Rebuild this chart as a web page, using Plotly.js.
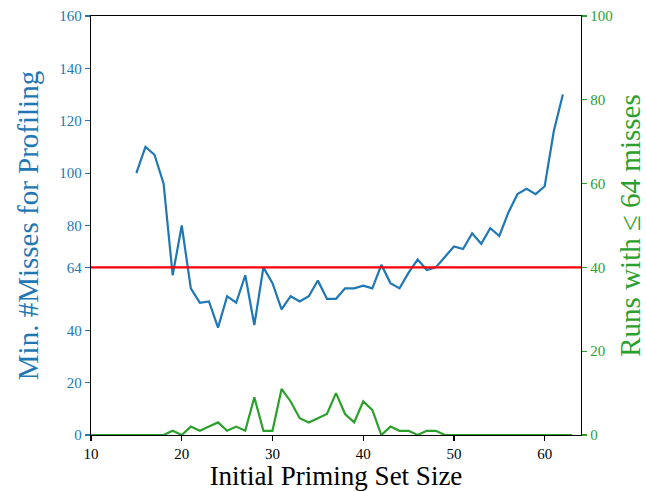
<!DOCTYPE html>
<html>
<head>
<meta charset="utf-8">
<script src="https://cdn.plot.ly/plotly-3.0.1.min.js"></script>
<style>html,body{margin:0;padding:0;background:#fff}#chart{width:646px;height:491px}</style>
</head>
<body>
<div id="chart"></div>
<script>
const minX = [15,16,17,18,19,20,21,22,23,24,25,26,27,28,29,30,31,32,33,34,35,36,37,38,39,40,41,42,43,44,45,46,47,48,49,50,51,52,53,54,55,56,57,58,59,60,61,62];
const minMisses = [100,110,107,96,61,80,56,50.5,51,41,53,50.5,61,42,64,58,48,53,51,53,59,52,52,56,56,57,56,65,58,56,62,67,63,64,68,72,71,77,73,79,76,85,92,94,92,95,116,130];
const runsX = [10,11,12,13,14,15,16,17,18,19,20,21,22,23,24,25,26,27,28,29,30,31,32,33,34,35,36,37,38,39,40,41,42,43,44,45,46,47,48,49,50,51,52,53,54,55,56,57,58,59,60,61,62,63];
const runs = [0,0,0,0,0,0,0,0,0,1,0,2,1,2,3,1,2,1,9,1,1,11,8,4,3,4,5,10,5,3,8,6,0,2,1,1,0,1,1,0,0,0,0,0,0,0,0,0,0,0,0,0,0,0];
const threshold = 64;
const leftTicks = [0,20,40,64,80,100,120,140,160];
const rightTicks = [0,20,40,60,80,100];
const xTicks = [10,20,30,40,50,60];

const blue = '#1f77b4', green = '#2ca02c';
const font = 'Liberation Serif, DejaVu Serif, serif';

Plotly.newPlot('chart', [
  {x: minX, y: minMisses, type: 'scatter', mode: 'lines', line: {color: blue, width: 2.2}, yaxis: 'y'},
  {x: runsX, y: runs, type: 'scatter', mode: 'lines', line: {color: green, width: 2.2}, yaxis: 'y2'}
], {
  width: 646, height: 491,
  margin: {l: 91, r: 65, t: 16, b: 56},
  showlegend: false,
  paper_bgcolor: '#fff', plot_bgcolor: '#fff',
  font: {family: font},
  xaxis: {
    range: [10, 64], tickvals: xTicks, ticks: 'outside', ticklen: 5, tickwidth: 1.2, tickcolor: '#000',
    showline: true, linecolor: '#000', linewidth: 1.2, mirror: true, showgrid: false, zeroline: false,
    tickfont: {size: 15, color: '#000', family: font},
    title: {text: 'Initial Priming Set Size', font: {size: 27, color: '#000', family: font}, standoff: 7}
  },
  yaxis: {
    range: [0, 160], tickvals: leftTicks, ticks: 'outside', ticklen: 5, tickwidth: 1.2, tickcolor: blue,
    showline: true, linecolor: '#000', linewidth: 1.2, showgrid: false, zeroline: false,
    tickfont: {size: 15, color: blue, family: font},
    title: {text: 'Min. #Misses for Profiling', font: {size: 29, color: blue, family: font}, standoff: 12}
  },
  yaxis2: {
    range: [0, 100], tickvals: rightTicks, ticks: 'outside', ticklen: 5, tickwidth: 1.2, tickcolor: green,
    overlaying: 'y', side: 'right',
    showline: true, linecolor: '#000', linewidth: 1.2, showgrid: false, zeroline: false,
    tickfont: {size: 15, color: green, family: font},
    title: {text: 'Runs with ≤ 64 misses', font: {size: 29, color: green, family: font}, standoff: 12}
  },
  shapes: [{type: 'line', xref: 'paper', x0: 0, x1: 1, yref: 'y', y0: threshold, y1: threshold, line: {color: 'red', width: 2.2}}]
}, {displayModeBar: false, staticPlot: true});
</script>
</body>
</html>
